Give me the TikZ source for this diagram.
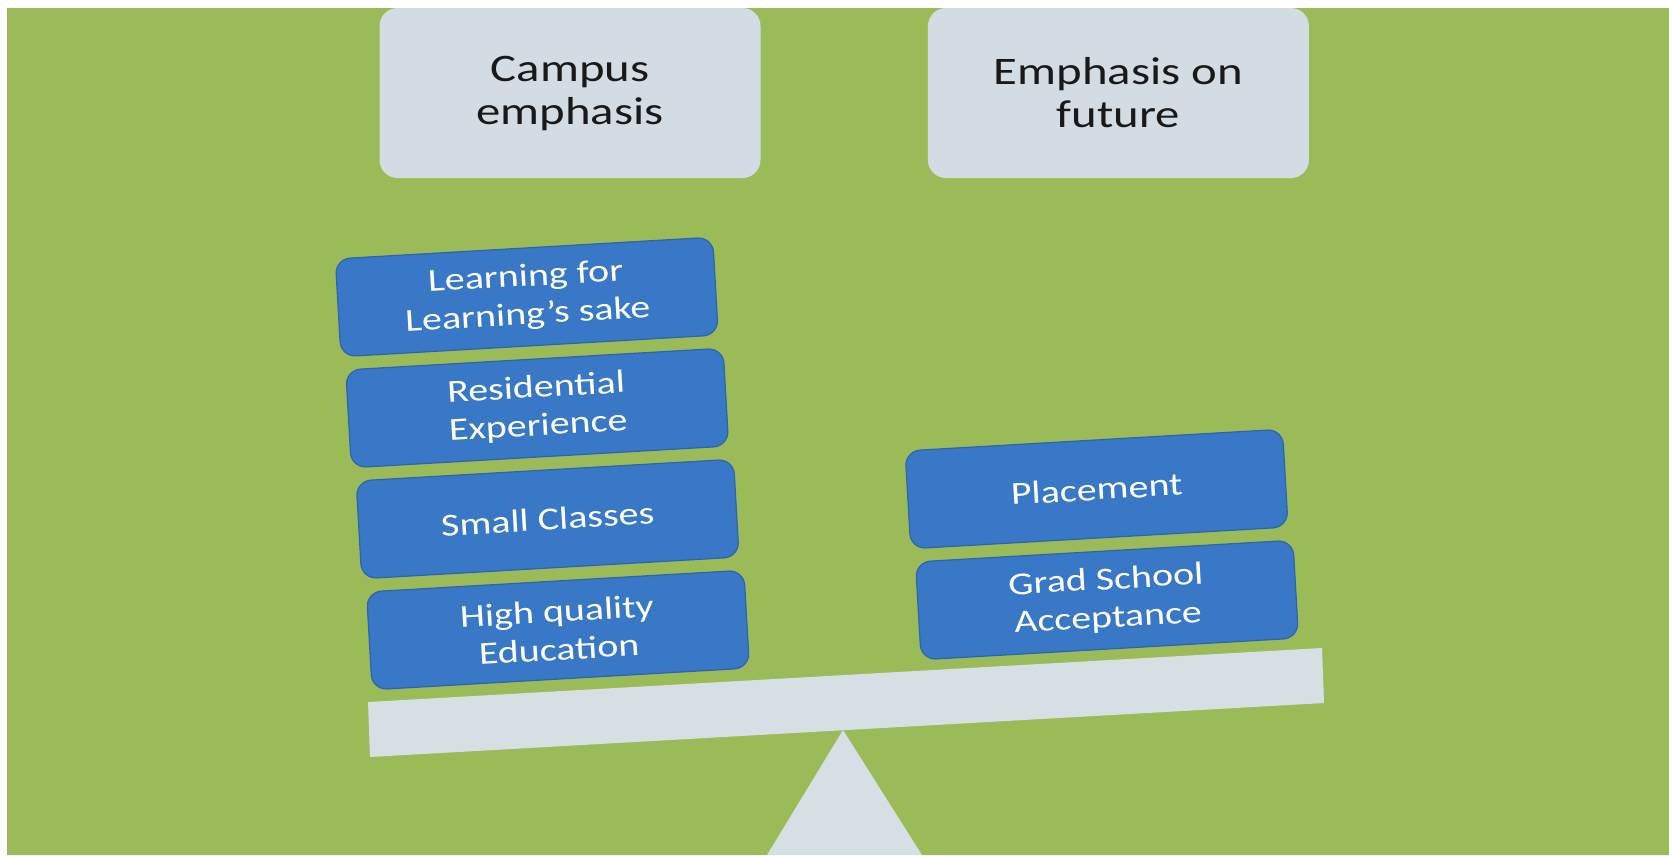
\documentclass[tikz,border=0pt]{standalone}
\usepackage{fontspec}
\newfontfamily\boxfont[FakeStretch=1.25]{Carlito}
\usetikzlibrary{positioning,calc}
\definecolor{scalegreen}{RGB}{155,187,89}
\definecolor{panelgray}{RGB}{211,220,227}
\definecolor{beamgray}{RGB}{214,223,228}
\definecolor{weightblue}{RGB}{56,120,198}
\definecolor{weightedge}{RGB}{45,100,172}

\begin{document}
\begin{tikzpicture}[x=1pt, y=-1pt,
  panel/.style={rectangle, rounded corners=18pt, fill=panelgray, minimum width=381pt, minimum height=170pt, align=center, text=black!90, font=\boxfont\fontsize{39}{43}\selectfont},
  weight/.style={rectangle, rounded corners=15pt, fill=weightblue, draw=weightedge, line width=1.2pt, minimum width=378pt, minimum height=98pt, align=center, rotate=3.3, text=white, font=\boxfont\fontsize{32}{38}\selectfont}]
  \useasboundingbox (0,0) rectangle (1669,855);
  \fill[scalegreen] (7,8) rectangle (1669,855);

  % BALANCE
  \fill[beamgray] (368,702) -- (1322,648) -- (1324,703) -- (370,757) -- cycle;
  \fill[beamgray] (843,730) -- (767,855) -- (922,855) -- cycle;

  \node [panel] (campustitle) at (570,93) {Campus\\emphasis};
  \node [panel, right=167pt of campustitle] (futuretitle) {Emphasis on\\future};

  % LEFT PAN
  \node [weight] (quality) at (558,630) {High quality\\Education};
  \node [weight, anchor=south] (classes) at ($(quality.north)!-12pt!(quality.south)+(-4,0)$) {Small Classes};
  \node [weight, anchor=south] (residential) at ($(classes.north)!-12pt!(classes.south)+(-4,0)$) {Residential\\Experience};
  \node [weight, anchor=south] (learning) at ($(residential.north)!-12pt!(residential.south)+(-4,0)$) {Learning for\\Learning’s sake};

  % RIGHT PAN
  \node [weight] (grad) at (1107,600) {Grad School\\Acceptance};
  \node [weight, anchor=south] (placement) at ($(grad.north)!-12pt!(grad.south)+(-4,0)$) {Placement};
\end{tikzpicture}
\end{document}
